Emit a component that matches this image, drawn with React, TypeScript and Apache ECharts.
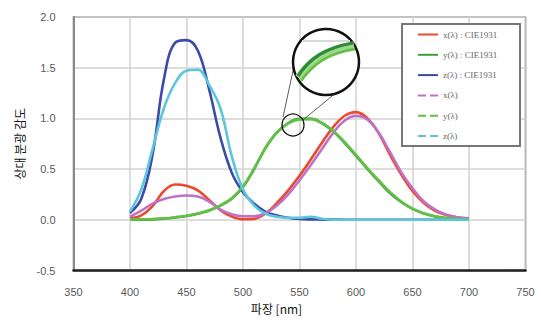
import React, { useEffect, useRef } from "react";
import * as echarts from "echarts";

const wavelengths = [400, 410, 420, 430, 440, 450, 460, 470, 480, 490, 500, 510, 520, 530, 540, 550, 560, 570, 580, 590, 600, 610, 620, 630, 640, 650, 660, 670, 680, 690, 700];

const cieX = [0.0143, 0.0435, 0.1344, 0.2839, 0.3483, 0.3362, 0.2908, 0.1954, 0.0956, 0.032, 0.0049, 0.0093, 0.0633, 0.1655, 0.2904, 0.4334, 0.5945, 0.7621, 0.9163, 1.0263, 1.0622, 1.0026, 0.8545, 0.6424, 0.4479, 0.2835, 0.1649, 0.0874, 0.0468, 0.0227, 0.0114];
const cieY = [0.0004, 0.0012, 0.004, 0.0116, 0.023, 0.038, 0.06, 0.091, 0.139, 0.208, 0.323, 0.503, 0.71, 0.862, 0.954, 0.995, 0.995, 0.952, 0.87, 0.757, 0.631, 0.503, 0.381, 0.265, 0.175, 0.107, 0.061, 0.032, 0.017, 0.0082, 0.0041];
const cieZ = [0.0679, 0.2074, 0.6456, 1.3856, 1.7471, 1.7721, 1.6692, 1.2876, 0.813, 0.4652, 0.272, 0.1582, 0.0782, 0.0422, 0.0203, 0.0087, 0.0039, 0.0021, 0.0017, 0.0011, 0.0008, 0.0003, 0.0002, 0, 0, 0, 0, 0, 0, 0, 0];

const measX = [0.03, 0.09, 0.16, 0.205, 0.23, 0.24, 0.23, 0.18, 0.1, 0.055, 0.035, 0.035, 0.065, 0.14, 0.25, 0.39, 0.54, 0.7, 0.86, 0.98, 1.025, 0.99, 0.86, 0.67, 0.47, 0.31, 0.18, 0.1, 0.05, 0.025, 0.015];
const measY = [0.003, 0.005, 0.008, 0.014, 0.025, 0.04, 0.062, 0.094, 0.143, 0.213, 0.33, 0.51, 0.71, 0.86, 0.95, 0.99, 0.995, 0.955, 0.875, 0.765, 0.64, 0.51, 0.39, 0.275, 0.18, 0.11, 0.065, 0.035, 0.018, 0.009, 0.005];
const measZ = [0.08, 0.3, 0.7, 1.1, 1.35, 1.47, 1.48, 1.33, 1.1, 0.63, 0.3, 0.14, 0.06, 0.03, 0.02, 0.02, 0.03, 0.01, 0, 0, 0, 0, 0, 0, 0, 0, 0, 0, 0, 0, 0];

const seriesNames = ["x(λ) : CIE1931", "y(λ) : CIE1931", "z(λ) : CIE1931", "x(λ)", "y(λ)", "z(λ)"];
const seriesColors = ["#ea4a2c", "#3f9e3c", "#3b4ba8", "#c070c6", "#62c046", "#5cc6dc"];
const seriesValues = [cieX, cieY, cieZ, measX, measY, measZ];
const dashedFlags = [false, false, false, true, true, true];

const xTicks = { min: 350, max: 750, step: 50 };
const yTicks = { min: -0.5, max: 2.0, step: 0.5 };

export default function App() {
  const ref = useRef<HTMLDivElement>(null);
  useEffect(() => {
    const chart = echarts.init(ref.current!, null, { renderer: "svg" });
    const series = seriesNames.map((name, k) => ({
      name,
      type: "line",
      data: wavelengths.map((w, i) => [w, seriesValues[k][i]]),
      symbol: "none",
      smooth: 0.4,
      lineStyle: { color: seriesColors[k], width: 2.6 },
      itemStyle: { color: seriesColors[k] },
      z: 2,
    }));
    chart.setOption({
      animation: false,
      backgroundColor: "#fff",
      grid: { left: 73.5, right: 15.5, top: 17, bottom: 56.5, show: true, borderColor: "#777", borderWidth: 1.5 },
      xAxis: {
        type: "value",
        min: xTicks.min,
        max: xTicks.max,
        interval: xTicks.step,
        name: "파장 [nm]",
        nameLocation: "middle",
        nameGap: 32,
        nameTextStyle: { fontFamily: "Noto Sans CJK KR", fontSize: 12, color: "#111", padding: [0, 46, 0, 0] },
        axisLine: { show: true, onZero: false, lineStyle: { color: "#222", width: 2.5 } },
        axisTick: { show: false },
        axisLabel: { margin: 16, color: "#5a5a5a", fontSize: 11, fontFamily: "Liberation Sans" },
        splitLine: { show: true, lineStyle: { color: "#d2d2d2", width: 1.5 } },
      },
      yAxis: {
        type: "value",
        min: yTicks.min,
        max: yTicks.max,
        interval: yTicks.step,
        name: "상대 분광 감도",
        nameLocation: "middle",
        nameGap: 46,
        nameTextStyle: { fontFamily: "Noto Sans CJK KR", fontSize: 12, color: "#111" },
        axisLine: { show: true, lineStyle: { color: "#888", width: 2 } },
        axisTick: { show: false },
        axisLabel: { margin: 18, color: "#5a5a5a", fontSize: 11, fontFamily: "Liberation Sans", formatter: (v: number) => v.toFixed(1) },
        splitLine: { show: true, lineStyle: { color: "#d2d2d2", width: 1.5 } },
      },
      legend: {
        orient: "vertical",
        left: 417,
        top: 30,
        padding: 0,
        itemWidth: 20,
        itemHeight: 8,
        itemGap: 11.3,
        z: 6,
        itemStyle: { opacity: 0 },
        textStyle: { fontFamily: "Liberation Serif", fontSize: 9, color: "#666" },
        data: seriesNames.map((name, k) => ({
          name,
          itemStyle: { opacity: 0 },
          lineStyle: dashedFlags[k] ? { type: "dashed", width: 2 } : { width: 2 },
        })),
      },
      graphic: [
        { type: "rect", z: 5, shape: { x: 402, y: 24, width: 118, height: 122 }, style: { fill: "#fff", stroke: "#777", lineWidth: 2 } },
        { type: "line", z: 7, shape: { x1: 283, y1: 117, x2: 296, y2: 57 }, style: { stroke: "#333", lineWidth: 0.8 } },
        { type: "line", z: 7, shape: { x1: 303, y1: 120, x2: 338, y2: 91 }, style: { stroke: "#333", lineWidth: 0.8 } },
        { type: "circle", z: 7, shape: { cx: 293, cy: 125, r: 11 }, style: { fill: "none", stroke: "#111", lineWidth: 1.3 } },
        { type: "circle", z: 8, shape: { cx: 326, cy: 62, r: 33 }, style: { fill: "#fff", stroke: "#111", lineWidth: 2.5 } },
        { type: "line", z: 9, shape: { x1: 302, y1: 41, x2: 350, y2: 41 }, style: { stroke: "#d8d8d8", lineWidth: 2 } },
        { type: "bezierCurve", z: 9, shape: { x1: 299, y1: 78, cpx1: 311, cpy1: 61, cpx2: 326, cpy2: 50, x2: 354, y2: 46 }, style: { fill: "none", stroke: "#9fd88a", lineWidth: 9 } },
        { type: "bezierCurve", z: 10, shape: { x1: 298, y1: 76, cpx1: 310, cpy1: 58, cpx2: 325, cpy2: 48, x2: 353, y2: 43 }, style: { fill: "none", stroke: "#2e8a3a", lineWidth: 3.2 } },
        { type: "bezierCurve", z: 10, shape: { x1: 301, y1: 81, cpx1: 313, cpy1: 64, cpx2: 328, cpy2: 53, x2: 355, y2: 49 }, style: { fill: "none", stroke: "#62c046", lineWidth: 2.6 } },
      ],
      series,
    });
    return () => chart.dispose();
  }, []);
  return <div ref={ref} style={{ position: "fixed", left: 0, top: 0, width: 541, height: 327 }} />;
}
